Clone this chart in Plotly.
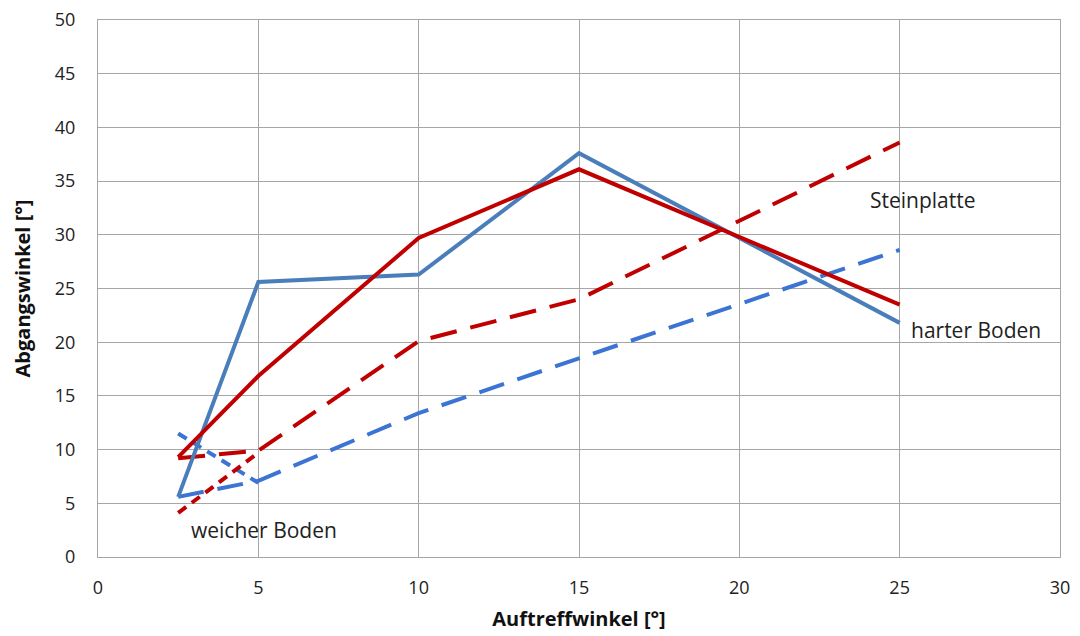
import plotly.graph_objects as go

# Data
x_main = [2.5, 5, 10, 15, 25]
blue_solid = [5.6, 25.6, 26.3, 37.6, 21.8]
red_solid = [9.3, 16.85, 29.7, 36.1, 23.5]
red_long = [9.2, 9.9, 20.1, 24.0, 38.6]
blue_long = [5.6, 7.1, 13.4, 18.5, 28.6]

x_short = [2.5, 5]
red_short = [4.1, 9.7]
blue_short = [11.5, 6.9]

x_ticks = [0, 5, 10, 15, 20, 25, 30]
y_ticks = [0, 5, 10, 15, 20, 25, 30, 35, 40, 45, 50]

labels = ["Steinplatte", "harter Boden", "weicher Boden"]
label_x = [24.0, 25.3, 2.85]
label_y = [33.2, 21.1, 2.5]

BLUE_S = "#4a7ebb"
BLUE_D = "#3b74d2"
RED = "#c00000"
FONT = "Open Sans"

fig = go.Figure()
fig.add_trace(go.Scatter(x=x_main, y=blue_long, mode="lines",
                         line=dict(color=BLUE_D, width=4, dash="26px,14px")))
fig.add_trace(go.Scatter(x=x_short, y=blue_short, mode="lines",
                         line=dict(color=BLUE_D, width=4, dash="10px,7px")))
fig.add_trace(go.Scatter(x=x_main, y=red_long, mode="lines",
                         line=dict(color=RED, width=4, dash="27px,14px")))
fig.add_trace(go.Scatter(x=x_short, y=red_short, mode="lines",
                         line=dict(color=RED, width=4, dash="10px,7px")))
fig.add_trace(go.Scatter(x=x_main, y=blue_solid, mode="lines",
                         line=dict(color=BLUE_S, width=4)))
fig.add_trace(go.Scatter(x=x_main, y=red_solid, mode="lines",
                         line=dict(color=RED, width=4)))

for t, lx, ly in zip(labels, label_x, label_y):
    fig.add_annotation(x=lx, y=ly, text=t, showarrow=False, xanchor="left",
                       font=dict(family=FONT, size=21, color="#222222"))

axis_common = dict(showgrid=True, gridcolor="#a6a6a6", gridwidth=1,
                   showline=True, linecolor="#a6a6a6", linewidth=1, mirror=True,
                   zeroline=False, ticks="", automargin=False,
                   ticklabeloverflow="allow",
                   tickfont=dict(family=FONT, size=18, color="#222222"))

fig.update_xaxes(range=[0, 30], tickvals=x_ticks, ticklabelstandoff=14,
                 title=dict(text="<b>Auftreffwinkel [°]</b>", standoff=14,
                            font=dict(family=FONT, size=20, color="#111111")),
                 **axis_common)
fig.update_yaxes(range=[0, 50], tickvals=y_ticks, ticklabelstandoff=18,
                 title=dict(text="<b>Abgangswinkel [°]</b>", standoff=18,
                            font=dict(family=FONT, size=20, color="#111111")),
                 **axis_common)

fig.update_layout(width=1072, height=628, showlegend=False,
                  plot_bgcolor="white", paper_bgcolor="white",
                  margin=dict(l=90, r=20, t=12, b=79))

fig.write_html("out.html")
